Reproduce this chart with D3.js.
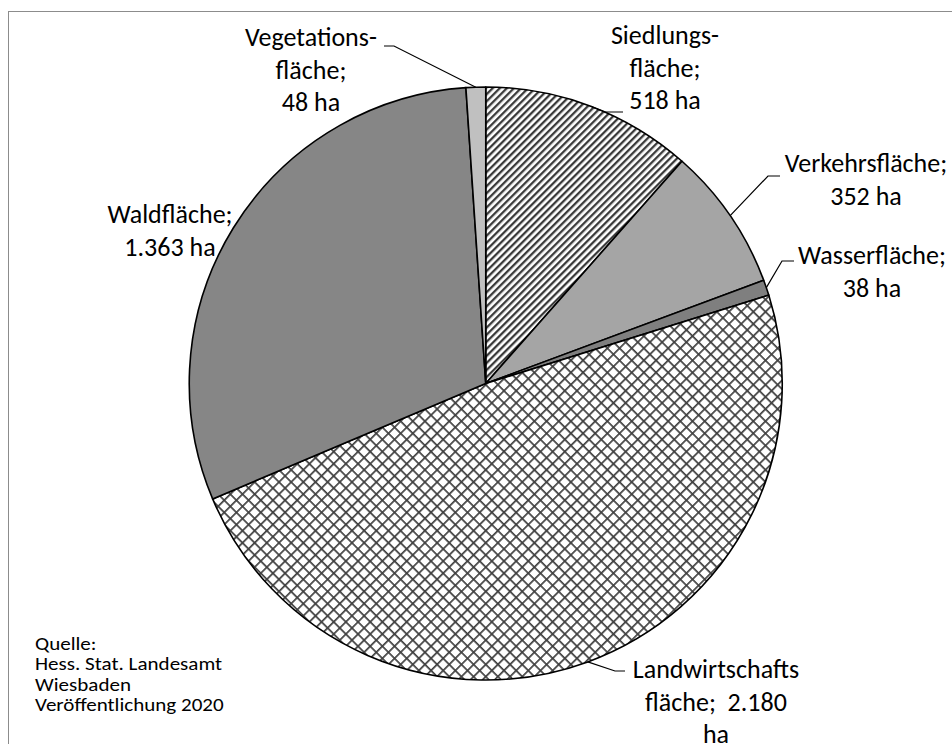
<!DOCTYPE html>
<html>
<head>
<meta charset="utf-8">
<script src="https://cdn.jsdelivr.net/npm/d3@7"></script>
<style>
  body { margin: 0; background: #fff; }
  svg { display: block; }
</style>
</head>
<body>
<svg width="952" height="744"></svg>
<script>
// Flächennutzung (ha), im Uhrzeigersinn ab 12 Uhr
const categories = ["Siedlungsfläche", "Verkehrsfläche", "Wasserfläche", "Landwirtschaftsfläche", "Waldfläche", "Vegetationsfläche"];
const values = [518, 352, 38, 2180, 1363, 48];
// label text per slice, {v} = formatted value
const labelLines = [
    ["Siedlungs-", "fläche;", "{v} ha"],
    ["Verkehrsfläche;", "{v} ha"],
    ["Wasserfläche;", "{v} ha"],
    ["Landwirtschafts", "fläche;  {v}", "ha"],
    ["Waldfläche;", "{v} ha"],
    ["Vegetations-", "fläche;", "{v} ha"]
];
const sourceLines = ["Quelle:", "Hess. Stat. Landesamt", "Wiesbaden", "Veröffentlichung 2020"];

(() => {
    let svg = d3.select("svg"),
        cx = 485.75, cy = 383.5, radius = 296.5;

    const de = d3.formatLocale({ decimal: ",", thousands: ".", grouping: [3], currency: ["", " €"] });
    const fmt = de.format(",d");

    // fills: pattern ids or plain greys
    const fills = ["url(#stripes)", "#a5a5a5", "#7f7f7f", "url(#cross)", "#868686", "#c0c0c0"];

    // label layout: text centre x, first baseline, leader elbow + end (null = no leader)
    const layout = [
        { x: 665, y: 44, elbow: [605, 112], end: [623, 112] },
        { x: 866, y: 172, elbow: [768, 176], end: [780, 176] },
        { x: 872, y: 264, elbow: [782, 261], end: [794, 261] },
        { x: 716, y: 678, elbow: [615, 671], end: [625, 671] },
        { x: 170, y: 223, elbow: null, end: null },
        { x: 311, y: 46, elbow: [394, 46], end: [384, 46] }
    ];

    let defs = svg.append("defs");
    let p1 = defs.append("pattern").attr("id", "stripes")
        .attr("patternUnits", "userSpaceOnUse")
        .attr("width", 5).attr("height", 5)
        .attr("patternTransform", "rotate(45)");
    p1.append("rect").attr("width", 5).attr("height", 5).attr("fill", "#fff");
    p1.append("rect").attr("width", 2.3).attr("height", 5).attr("fill", "#3a3a3a");

    let p2 = defs.append("pattern").attr("id", "cross")
        .attr("patternUnits", "userSpaceOnUse")
        .attr("width", 8.6).attr("height", 8.6)
        .attr("patternTransform", "rotate(45)");
    p2.append("rect").attr("width", 8.6).attr("height", 8.6).attr("fill", "#fff");
    p2.append("rect").attr("width", 1.7).attr("height", 8.6).attr("fill", "#3f3f3f");
    p2.append("rect").attr("width", 8.6).attr("height", 1.7).attr("fill", "#3f3f3f");

    // chart frame
    svg.append("rect")
        .attr("x", 8.5).attr("y", 11.5)
        .attr("width", 960).attr("height", 760)
        .attr("fill", "none")
        .attr("stroke", "#8c8c8c");

    let pie = d3.pie().sort(null).value(d => d)(values);
    let arc = d3.arc().innerRadius(0).outerRadius(radius);

    let g = svg.append("g").attr("transform", `translate(${cx},${cy})`);
    g.selectAll("path")
        .data(pie)
        .join("path")
        .attr("d", arc)
        .attr("fill", (d, i) => fills[i])
        .attr("stroke", "#000")
        .attr("stroke-width", 1.6)
        .attr("stroke-linejoin", "round");

    //leader lines
    const edge = d => {
        const a = (d.startAngle + d.endAngle) / 2;
        return [cx + radius * Math.sin(a), cy - radius * Math.cos(a)];
    };
    svg.append("g").selectAll("polyline")
        .data(pie.filter((d, i) => layout[i].elbow))
        .join("polyline")
        .attr("points", d => {
            const L = layout[d.index];
            return [edge(d), L.elbow, L.end].map(p => p.join(",")).join(" ");
        })
        .attr("fill", "none")
        .attr("stroke", "#000")
        .attr("stroke-width", 1.2);

    //labels
    const font = "Carlito, 'Open Sans', 'Noto Sans', sans-serif";
    let labels = svg.append("g").selectAll("text")
        .data(pie)
        .join("text")
        .attr("font-family", font)
        .attr("font-size", 26)
        .attr("fill", "#000")
        .attr("text-anchor", "middle")
        .attr("x", d => layout[d.index].x)
        .attr("y", d => layout[d.index].y);
    labels.selectAll("tspan")
        .data(d => labelLines[d.index].map(s => ({ s: s.replace("{v}", fmt(d.data)), x: layout[d.index].x })))
        .join("tspan")
        .attr("x", t => t.x)
        .attr("dy", (t, i) => i ? 32.5 : 0)
        .attr("xml:space", "preserve")
        .style("white-space", "pre")
        .text(t => t.s);

    //source note (slightly wide in the original)
    svg.append("text")
        .attr("font-family", font)
        .attr("font-size", 18)
        .attr("fill", "#000")
        .attr("transform", "translate(35,650) scale(1.17,1)")
        .selectAll("tspan")
        .data(sourceLines)
        .join("tspan")
        .attr("x", 0)
        .attr("dy", (t, i) => i ? 20.5 : 0)
        .text(t => t);
})();
</script>
</body>
</html>
